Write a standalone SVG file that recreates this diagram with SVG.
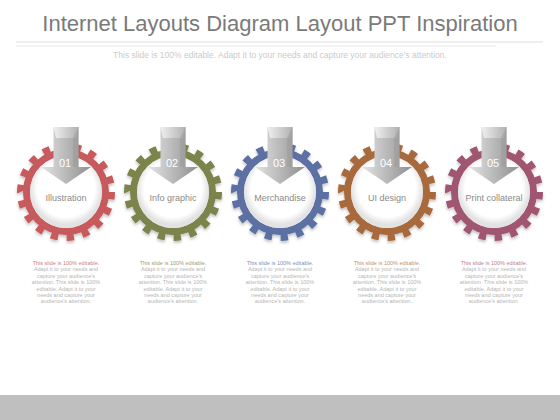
<svg xmlns="http://www.w3.org/2000/svg" width="560" height="420" viewBox="0 0 560 420">
<defs>
<style>
.title{font-family:"Liberation Sans",Arial,sans-serif;font-size:22px;fill:#7a7a7a;text-anchor:middle}
.sub{font-family:"Liberation Sans",Arial,sans-serif;font-size:8.5px;fill:#cbcbcb;text-anchor:middle}
.lbl{font-family:"Liberation Sans",Arial,sans-serif;font-size:9px;fill:#8a8a8a;text-anchor:middle}
.num{font-family:"Liberation Sans",Arial,sans-serif;font-size:11px;fill:#ffffff;text-anchor:middle}
.body{font-family:"Liberation Sans",Arial,sans-serif;font-size:5.5px;fill:#b5b5b5;text-anchor:middle}
.teeth{fill:none;stroke-width:7;stroke-dasharray:4.6 5.4}
.ring{fill:none;stroke-width:7}
</style>
<radialGradient id="hole" cx="0.5" cy="0.45" r="0.5">
<stop offset="0.8" stop-color="#ffffff"/>
<stop offset="1" stop-color="#e2e2e2"/>
</radialGradient>
<linearGradient id="arr" x1="0" y1="0" x2="1" y2="0">
<stop offset="0" stop-color="#e4e4e4"/>
<stop offset="0.45" stop-color="#bdbdbd"/>
<stop offset="1" stop-color="#8f8f8f"/>
</linearGradient>
<linearGradient id="tab" x1="0" y1="0" x2="1" y2="0">
<stop offset="0" stop-color="#f0f0f0"/>
<stop offset="1" stop-color="#b0b0b0"/>
</linearGradient>
<filter id="sh" x="-20%" y="-20%" width="140%" height="140%">
<feDropShadow dx="0" dy="2" stdDeviation="1.5" flood-color="#000" flood-opacity="0.25"/>
</filter>
<g id="arrow">
<path d="M-12.5 -65 L12.5 -65 L12.5 -25 L25 -25 L0 -8 L-25 -25 L-12.5 -25 Z" fill="url(#arr)"/>
<path d="M-12.5 -65 L12.5 -65 L10 -54 L-10 -54 Z" fill="url(#tab)"/>
<path d="M7 -54 L12.5 -65 L12.5 -25 L7 -25 Z" fill="#9a9a9a" opacity="0.5"/>
</g>
</defs>
<rect x="0" y="0" width="560" height="420" fill="#ffffff"/>
<text class="title" x="280" y="31">Internet Layouts Diagram Layout PPT Inspiration</text>
<line x1="16" y1="42" x2="543" y2="42" stroke="#dedede" stroke-width="1"/>
<line x1="16" y1="46" x2="496" y2="46" stroke="#e6e6e6" stroke-width="1"/>
<text class="sub" x="280" y="58">This slide is 100% editable. Adapt it to your needs and capture your audience's attention.</text>
<rect x="0" y="395" width="560" height="25" fill="#bfbfbf"/>

<g id="node1" transform="translate(66,192)">
<g filter="url(#sh)">
<circle r="45.5" pathLength="180" class="teeth" stroke="#c75a5b"/>
<circle r="39.5" class="ring" stroke="#c75a5b"/>
</g>
<circle r="36" fill="url(#hole)"/>
<use href="#arrow"/>
<text class="num" x="-1" y="-25">01</text>
<text class="lbl" x="0" y="9">Illustration</text>
<g class="body">
<text x="0" y="73" style="fill:#d08080">This slide is 100% editable.</text>
<text x="0" y="79.4">Adapt it to your needs and</text>
<text x="0" y="85.8">capture your audience's</text>
<text x="0" y="92.2">attention. This slide is 100%</text>
<text x="0" y="98.6">editable. Adapt it to your</text>
<text x="0" y="105">needs and capture your</text>
<text x="0" y="111.4">audience's attention.</text>
</g>
</g>

<g id="node2" transform="translate(173,192)">
<g filter="url(#sh)">
<circle r="45.5" pathLength="180" class="teeth" stroke="#7b844c"/>
<circle r="39.5" class="ring" stroke="#7b844c"/>
</g>
<circle r="36" fill="url(#hole)"/>
<use href="#arrow"/>
<text class="num" x="-1" y="-25">02</text>
<text class="lbl" x="0" y="9">Info graphic</text>
<g class="body">
<text x="0" y="73" style="fill:#9aa070">This slide is 100% editable.</text>
<text x="0" y="79.4">Adapt it to your needs and</text>
<text x="0" y="85.8">capture your audience's</text>
<text x="0" y="92.2">attention. This slide is 100%</text>
<text x="0" y="98.6">editable. Adapt it to your</text>
<text x="0" y="105">needs and capture your</text>
<text x="0" y="111.4">audience's attention.</text>
</g>
</g>

<g id="node3" transform="translate(280,192)">
<g filter="url(#sh)">
<circle r="45.5" pathLength="180" class="teeth" stroke="#5b6fa3"/>
<circle r="39.5" class="ring" stroke="#5b6fa3"/>
</g>
<circle r="36" fill="url(#hole)"/>
<use href="#arrow"/>
<text class="num" x="-1" y="-25">03</text>
<text class="lbl" x="0" y="9">Merchandise</text>
<g class="body">
<text x="0" y="73" style="fill:#8090bb">This slide is 100% editable.</text>
<text x="0" y="79.4">Adapt it to your needs and</text>
<text x="0" y="85.8">capture your audience's</text>
<text x="0" y="92.2">attention. This slide is 100%</text>
<text x="0" y="98.6">editable. Adapt it to your</text>
<text x="0" y="105">needs and capture your</text>
<text x="0" y="111.4">audience's attention.</text>
</g>
</g>

<g id="node4" transform="translate(387,192)">
<g filter="url(#sh)">
<circle r="45.5" pathLength="180" class="teeth" stroke="#a86b3d"/>
<circle r="39.5" class="ring" stroke="#a86b3d"/>
</g>
<circle r="36" fill="url(#hole)"/>
<use href="#arrow"/>
<text class="num" x="-1" y="-25">04</text>
<text class="lbl" x="0" y="9">UI design</text>
<g class="body">
<text x="0" y="73" style="fill:#c09070">This slide is 100% editable.</text>
<text x="0" y="79.4">Adapt it to your needs and</text>
<text x="0" y="85.8">capture your audience's</text>
<text x="0" y="92.2">attention. This slide is 100%</text>
<text x="0" y="98.6">editable. Adapt it to your</text>
<text x="0" y="105">needs and capture your</text>
<text x="0" y="111.4">audience's attention.</text>
</g>
</g>

<g id="node5" transform="translate(494,192)">
<g filter="url(#sh)">
<circle r="45.5" pathLength="180" class="teeth" stroke="#a05570"/>
<circle r="39.5" class="ring" stroke="#a05570"/>
</g>
<circle r="36" fill="url(#hole)"/>
<use href="#arrow"/>
<text class="num" x="-1" y="-25">05</text>
<text class="lbl" x="0" y="9">Print collateral</text>
<g class="body">
<text x="0" y="73" style="fill:#bb8095">This slide is 100% editable.</text>
<text x="0" y="79.4">Adapt it to your needs and</text>
<text x="0" y="85.8">capture your audience's</text>
<text x="0" y="92.2">attention. This slide is 100%</text>
<text x="0" y="98.6">editable. Adapt it to your</text>
<text x="0" y="105">needs and capture your</text>
<text x="0" y="111.4">audience's attention.</text>
</g>
</g>
<g id="connectors"/>
</svg>
